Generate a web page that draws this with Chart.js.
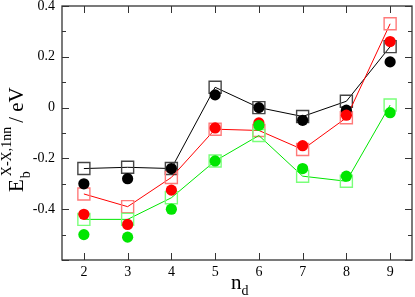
<!DOCTYPE html>
<html><head><meta charset="utf-8">
<script src="https://cdn.jsdelivr.net/npm/chart.js@4"></script>
<style>html,body{margin:0;padding:0;background:#fff}#wrap{width:415px;height:297px;position:relative}</style>
</head><body><div id="wrap"><canvas id="c" width="415" height="297"></canvas></div>
<script>
const nd = [2, 3, 4, 5, 6, 7, 8, 9];
const blackSquares = [-0.24, -0.235, -0.24, 0.08, 0.0, -0.035, 0.025, 0.24];
const blackCircles = [-0.30, -0.28, -0.24, 0.05, 0.0, -0.05, -0.01, 0.18];
const redSquares = [-0.34, -0.39, -0.275, -0.085, -0.09, -0.165, -0.04, 0.33];
const redCircles = [-0.42, -0.46, -0.325, -0.08, -0.06, -0.15, -0.03, 0.26];
const greenSquares = [-0.44, -0.44, -0.355, -0.21, -0.11, -0.27, -0.29, 0.01];
const greenCircles = [-0.50, -0.51, -0.40, -0.21, -0.07, -0.24, -0.27, -0.02];
const yTickLabels = ['-0.4', '-0.2', '0', '0.2', '0.4'];
const xTickLabels = ['2', '3', '4', '5', '6', '7', '8', '9'];
const yMinorTicks = [-0.6, -0.5, -0.4, -0.3, -0.2, -0.1, 0, 0.1, 0.2, 0.3, 0.4];

const SERIF = "'Liberation Serif', 'DejaVu Serif', serif";
const pts = arr => nd.map((x, i) => ({x: x, y: arr[i]}));

function squareSet(data, line, edge, order) {
  return {data: pts(data), showLine: true, borderColor: line, borderWidth: 1,
    pointStyle: 'rect', pointRadius: 8.5, pointHoverRadius: 8.5,
    pointBorderColor: edge, pointBorderWidth: 1.4,
    pointBackgroundColor: 'rgba(0,0,0,0)', order: order, clip: false};
}
function circleSet(data, fill, order) {
  return {data: pts(data), showLine: false, pointStyle: 'circle',
    pointRadius: 5.6, pointHoverRadius: 5.6, pointBorderWidth: 0,
    pointBackgroundColor: fill, borderColor: fill, order: order, clip: false};
}

const frame = {
  id: 'frame',
  beforeDatasetsDraw(chart) {
    const ctx = chart.ctx, a = chart.chartArea;
    const xs = chart.scales.x, ys = chart.scales.y;
    ctx.save();
    ctx.strokeStyle = '#333';
    ctx.lineWidth = 1.3;
    ctx.strokeRect(a.left, a.top, a.right - a.left, a.bottom - a.top);
    ctx.lineWidth = 1;
    ctx.beginPath();
    yMinorTicks.forEach((v, i) => {
      const y = Math.round(ys.getPixelForValue(v)) + 0.5;
      const len = (i % 2 === 0) ? 7 : 4;
      ctx.moveTo(a.left, y); ctx.lineTo(a.left + len, y);
      ctx.moveTo(a.right, y); ctx.lineTo(a.right - len, y);
    });
    nd.forEach(v => {
      const x = Math.round(xs.getPixelForValue(v)) + 0.5;
      ctx.moveTo(x, a.bottom); ctx.lineTo(x, a.bottom - 7);
      ctx.moveTo(x, a.top); ctx.lineTo(x, a.top + 7);
    });
    ctx.stroke();
    ctx.restore();
  },
  afterDraw(chart) {
    const ctx = chart.ctx;
    ctx.save();
    ctx.fillStyle = '#000';
    ctx.textBaseline = 'alphabetic';
    ctx.textAlign = 'left';
    // y title
    ctx.translate(23, 192);
    ctx.rotate(-Math.PI / 2);
    ctx.font = '21px ' + SERIF;
    ctx.fillText('E', 0, 0);
    let x = ctx.measureText('E').width + 1;
    ctx.font = '14px ' + SERIF;
    ctx.fillText('b', x, 7);
    ctx.fillText('X-X,1nn', x + 2, -12);
    x += Math.max(ctx.measureText('b').width, ctx.measureText('X-X,1nn').width + 2) + 4;
    ctx.font = '21px ' + SERIF;
    ctx.fillText('/ eV', x, 0);
    ctx.restore();
    // x title
    ctx.save();
    ctx.fillStyle = '#000';
    ctx.textAlign = 'left';
    ctx.textBaseline = 'alphabetic';
    ctx.font = '21px ' + SERIF;
    ctx.fillText('n', 231, 289);
    const w = ctx.measureText('n').width;
    ctx.font = '14px ' + SERIF;
    ctx.fillText('d', 231 + w, 295);
    ctx.restore();
  }
};

new Chart(document.getElementById('c'), {
  type: 'scatter',
  data: {datasets: [
    squareSet(blackSquares, '#000', '#444', 12),
    squareSet(redSquares, '#ff0000', '#ff7a7a', 11),
    squareSet(greenSquares, '#00e600', '#7aff7a', 10),
    circleSet(blackCircles, '#000', 3),
    circleSet(redCircles, '#ff0000', 2),
    circleSet(greenCircles, '#00e600', 1)
  ]},
  options: {
    responsive: false, animation: false, devicePixelRatio: 1,
    layout: {autoPadding: false, padding: {left: 0, right: 3, top: 6, bottom: 0}},
    plugins: {legend: {display: false}, tooltip: {enabled: false}},
    scales: {
      x: {type: 'linear', min: 1.5, max: 9.5,
        afterBuildTicks: s => { s.ticks = nd.map(v => ({value: v})); },
        afterFit: s => { s.height = 37; s.paddingLeft = 0; s.paddingRight = 0; },
        grid: {display: true, drawOnChartArea: false, drawTicks: false, color: 'rgba(0,0,0,0)'},
        border: {display: false},
        ticks: {padding: 4, color: '#000', font: {family: SERIF, size: 14},
          callback: (v) => xTickLabels[nd.indexOf(v)] ?? ''}},
      y: {type: 'linear', min: -0.6, max: 0.4,
        afterBuildTicks: s => { s.ticks = yMinorTicks.map(v => ({value: v})); },
        afterFit: s => { s.width = 62; s.paddingTop = 0; s.paddingBottom = 0; },
        grid: {display: true, drawOnChartArea: false, drawTicks: false, color: 'rgba(0,0,0,0)'},
        border: {display: false},
        ticks: {padding: 7, color: '#000', font: {family: SERIF, size: 14},
          callback: (v) => { const s = String(Math.round(v * 10) / 10); return yTickLabels.includes(s) ? s : ''; }}}
    }
  },
  plugins: [frame]
});
</script></body></html>
